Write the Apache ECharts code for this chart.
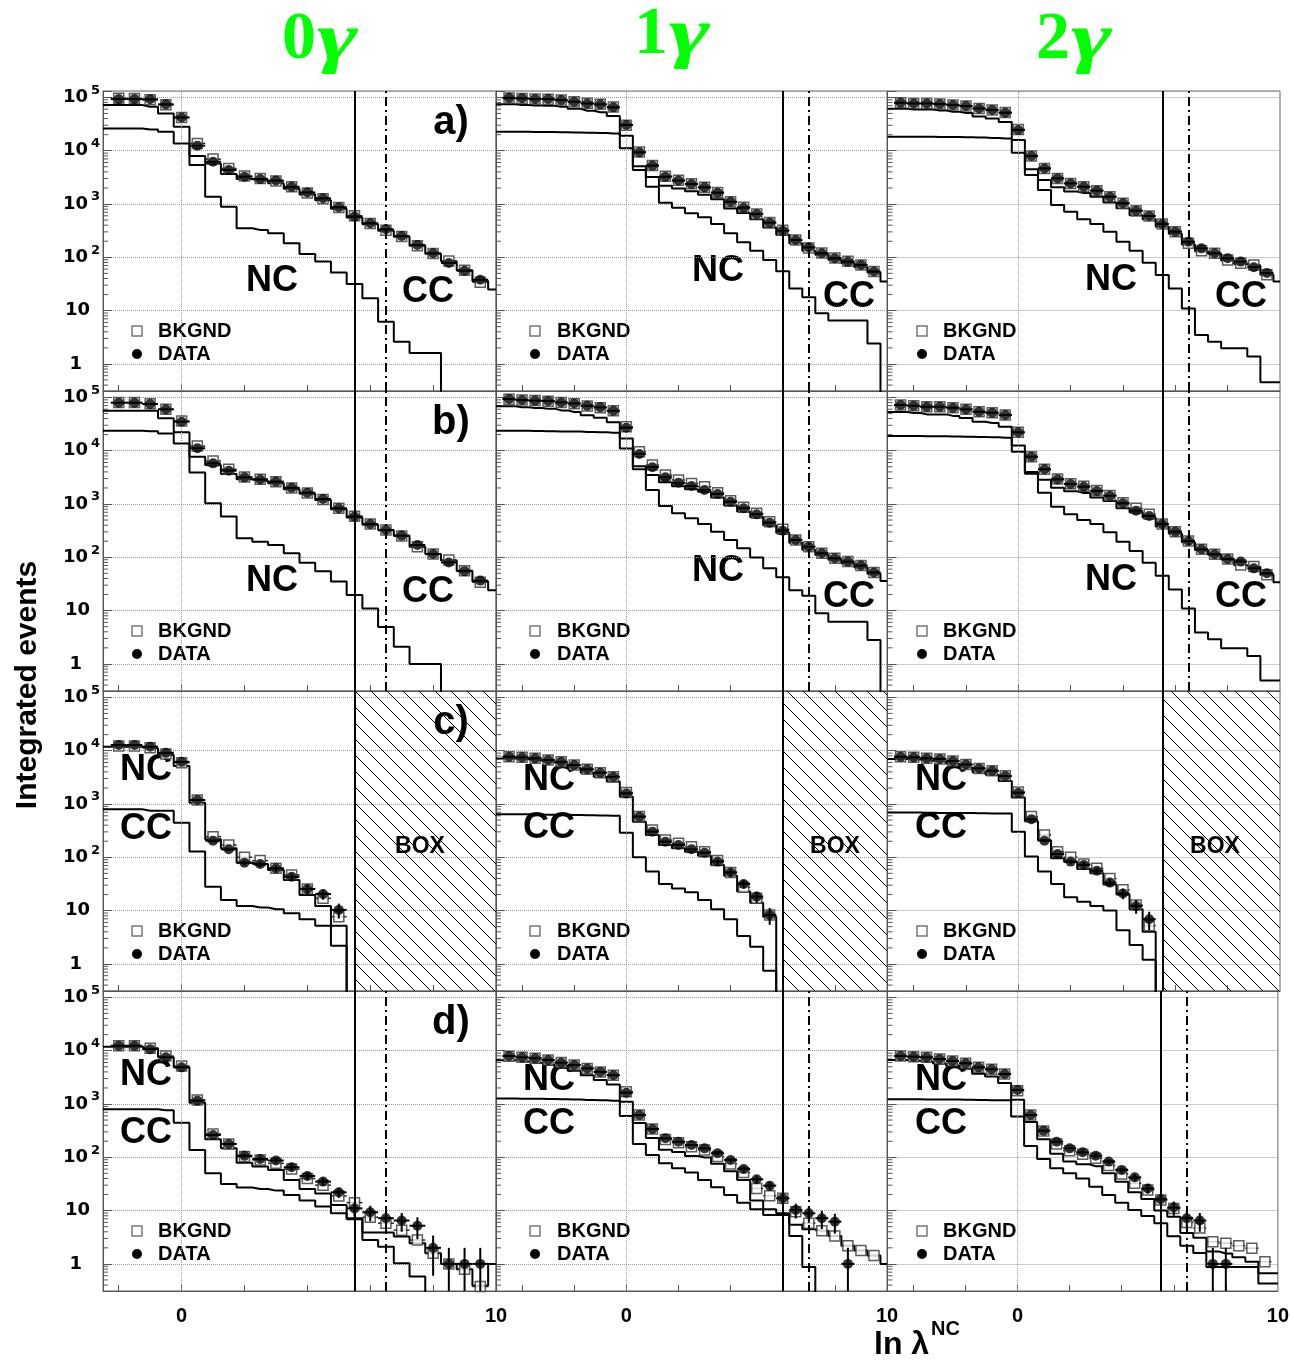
<!DOCTYPE html>
<html><head><meta charset="utf-8">
<script src="https://cdn.jsdelivr.net/npm/echarts@6/dist/echarts.min.js"></script>
<style>html,body{margin:0;padding:0;background:#fff}#c{width:1292px;height:1360px}</style>
</head><body><div id="c"></div>
<script>
// ---------- bin centres (ln lambda NC) ----------
const xCol0  = [-2,-1.5,-1,-0.5,0,0.5,1,1.5,2,2.5,3,3.5,4,4.5,5,5.5,6,6.5,7,7.5,8,8.5,9,9.5,10];
const xCol12 = [-4.5,-4,-3.5,-3,-2.5,-2,-1.5,-1,-0.5,0,0.5,1,1.5,2,2.5,3,3.5,4,4.5,5,5.5,6,6.5,7,7.5,8,8.5,9,9.5,10];

// ---------- 0 gamma ----------
const dataA0 = [93000,93000,92000,74000,42000,12400,6200,4350,3250,2930,2750,2100,1650,1280,870,580,435,335,250,170,119,78,56,38];
const bkgA0  = [96000,95000,90000,73000,42000,13700,6950,4650,3350,3000,2700,2100,1600,1250,860,600,430,320,245,165,118,85,57,34];
const ncA0   = [26200,26200,25100,22700,13700,5390,1370,891,350,325,282,183,115,83,52,31.6,17,6.2,2.6,1.6,1.6,0,0,0,0];
const ccA0   = [71800,71800,66800,50100,28200,7940,5750,3650,2950,2750,2450,1930,1500,1180,810,560,415,315,243,165,117,84,57,36,25];

const dataB0 = [79400,79400,75000,59600,35000,11100,5790,4220,3160,2890,2630,2020,1630,1240,830,580,420,325,255,170,115,80,55,36.5];
const bkgB0  = [80000,80000,76000,60000,36000,12200,6400,4470,3200,2900,2600,2000,1600,1220,830,590,420,325,250,158,115,89,56,34];
const ncB0   = [23700,23700,23200,21100,13700,3900,1030,580,227,196,170,119,79,55,35,19.6,11,4.9,2.1,1.0,1.0,0,0,0,0];
const ccB0   = [56200,56200,56200,40400,22100,7720,5370,3650,2900,2700,2460,1900,1550,1185,795,560,409,320,253,158,115,87,56,35,24];

const dataC0 = [12800,12800,11900,9130,6180,1190,205,141,79.4,75,62,43,25.5,20.5,10.3];
const bkgC0  = [12200,12200,11300,8660,5960,1190,244,170,100,86.6,62,46.6,25.5,17,7.7];
const errC0  = [0,0,0,0,0,0,0,0,8.9,8.7,7.9,6.6,5,4.5,3.2];
const ncC0   = [11900,11900,11060,8300,5160,1060,218,147,79,75,58,37.6,19.7,12.2,2.2,0];
const ccC0   = [794,794,750,750,447,128,28,15.8,12.2,11.4,10.6,8.9,6.9,5.2,5.2,0];

const dataD0 = [12400,12400,10700,7500,4870,1155,262,178,107,93,87,65,44.7,35,22,11,9.3,7.2,6.5,5.2,2.0,1.0,1.0,1.0];
const bkgD0  = [12400,12400,11060,7940,5160,1190,274,178,103,89,77,60,40,30,18.8,14.1,7.5,5.8,4.3,2.8,1.58,1.0,0.79,0.376];
const errD0  = [0,0,0,0,0,0,0,0,10,9.6,9.3,8,6.7,5.9,4.7,3.3,3.0,2.7,2.5,2.3,1.4,1,1,1];
const ncD0   = [11900,11900,11060,7500,4870,1060,218,147,79,67,58,37.6,25.5,21,12.8,7.2,3.9,3.9,3.25,2.44,1.58,1.0,0.79,0.39,1.0];
const ccD0   = [794,794,794,760,447,137,50,31.6,27,25.5,23.7,19.7,15.4,11.9,8.9,6.9,2.8,2.1,1.03,0.58,0,0,0,0,0];

// ---------- 1 gamma ----------
const dataA1 = [98000,96000,93000,93000,89000,83000,77000,74000,65000,30300,9300,5250,3250,2750,2370,2050,1630,1100,850,650,447,316,211,154,119,96,83,72,54];
const bkgA1  = [97000,95000,93000,92000,89000,83000,78000,74000,66000,30000,9500,5300,3300,2800,2400,2050,1650,1100,870,650,450,320,210,150,120,97,84,72,54];
const ncA1   = [22700,22600,22500,22400,22200,22000,21800,21500,21100,11060,4350,2110,1060,850,668,562,422,282,191,133,89,55,26,17.8,8.9,6.5,6.5,6.5,2.4,0];
const ccA1   = [74000,72000,70500,69500,67000,61000,56000,52500,45000,19000,5100,3200,2200,1950,1730,1490,1230,820,680,517,361,265,184,132,111,90,77,65,52,35];

const dataB1 = [93000,89000,87000,86000,80500,77000,69600,65000,56000,27000,8700,4900,3160,2500,2170,1830,1540,1100,830,640,447,316,211,158,119,96,83,70,52];
const bkgB1  = [92000,89000,87000,85000,80000,76000,69000,64000,56000,28000,9600,5370,3480,2820,2430,2110,1630,1150,870,668,465,335,211,158,119,96,83,70,52];
const ncB1   = [23700,23600,23400,23200,23000,22800,22500,22200,21800,11000,4470,1830,915,668,540,422,303,211,147,99,62,42,24,19,8.9,6.2,6.2,6.2,2.8,0];
const ccB1   = [68000,65500,63500,61500,57000,53000,46000,41500,34000,17000,5100,3500,2560,2150,1890,1690,1330,940,720,570,400,290,187,139,110,90,77,64,49,36];

const dataC1 = [7720,7500,7180,6680,6200,5370,4470,3870,3250,1580,580,303,196,170,141,122,83,52,31.6,18.3,8.3];
const bkgC1  = [7720,7500,7180,6680,6200,5370,4470,3870,3250,1650,580,325,211,183,158,127,87,52,27.4,17,8.3];
const errC1  = [0,0,0,0,0,0,0,0,0,0,0,0,0,0,0,0,9.1,7.2,5.6,4.3,2.9];
const ncC1   = [7100,6900,6550,6050,5550,4750,3850,3230,2650,1370,466,262,170,147,127,107,72,45,22.7,14.1,7.7,0];
const ccC1   = [640,640,635,630,625,620,615,610,600,290,100,54,31.6,26,22,15.8,10.6,6.9,3.35,2.1,0.74,0];

const dataD1 = [7940,7500,7180,6680,5960,5370,4650,4000,3470,1630,620,340,227,196,170,147,119,89,60,38.7,29.4,17,10.3,8.9,7.2,6.2,1,0,0];
const bkgD1  = [7900,7500,7200,6700,6000,5400,4650,4000,3470,1700,620,340,215,188,158,137,103,75,51.6,26,19,17,9.5,5.8,4.2,3.35,2.2,1.78,1.43];
const errD1  = [0,0,0,0,0,0,0,0,0,0,0,0,0,0,0,0,10.9,9.4,7.7,6.2,5.4,4.1,3.2,3.0,2.7,2.5,1,0,0];
const ncD1   = [6630,6240,5950,5460,4770,4190,3460,2830,2320,1100,442,230,138,126,106,99,76,55,37.5,15.4,10.6,8.9,5.4,4.47,4.2,3.35,2.2,1.78,1.43,1.0];
const ccD1   = [1270,1260,1250,1240,1230,1210,1190,1170,1150,596,178,110,77,62,52,37.6,27.4,19.6,14.1,10.6,8.3,8.3,3.35,0.87,0,0,0,0,0,0];

// ---------- 2 gamma ----------
const dataA2 = [79400,77000,77000,75000,71800,69000,62000,57800,51600,24500,7940,4650,3020,2430,2110,1780,1370,1030,750,596,422,303,196,147,119,96,83,65,51];
const bkgA2  = [79000,77000,77000,75000,72000,69000,62000,58000,52000,25000,7970,4650,3020,2430,2110,1780,1370,1030,750,596,422,303,184,133,119,89,77,72,47];
const ncA2   = [18300,18300,18200,18100,18000,17800,17600,17300,17000,9130,3500,1830,960,718,515,422,303,196,133,79,46.6,26,11,3.5,2.6,1.97,1.97,1.37,0.45,0.45];
const ccA2   = [61000,59000,59000,57000,54000,51000,44000,40000,34500,15800,4470,2820,2060,1710,1600,1360,1070,835,617,517,375,277,173,130,116,87,75,70,47,35];

const dataB2 = [71800,69600,66800,66800,64000,59600,53800,51600,46600,22100,7720,4470,2900,2370,2110,1750,1430,1030,750,596,422,303,202,141,114,93,83,62,50];
const bkgB2  = [71800,69600,66800,66800,64000,59600,53800,51600,46600,22100,7720,4470,2950,2400,2150,1800,1450,1050,830,640,422,303,202,141,114,93,72,67,47];
const ncB2   = [18800,18800,18700,18600,18500,18300,18100,17900,17500,9600,4000,1630,890,640,500,422,294,196,131,79,45,25,11,3.9,2.9,1.97,1.97,1.41,0.49,0.49];
const ccB2   = [53000,51000,48000,48000,45000,41000,35000,33000,28000,12500,3700,2840,2010,1730,1610,1330,1140,834,700,560,377,278,191,137,111,91,71,66,47,34];

const dataC2 = [7720,7500,7180,6980,6400,5500,4650,4220,3350,1630,516,205,115,83,72,56,33.5,21,12.2,6.9];
const bkgC2  = [7720,7500,7180,6980,6400,5500,4650,4220,3400,1680,580,262,127,100,75,62,40,24.5,12.8,5.2];
const errC2  = [0,0,0,0,0,0,0,0,0,0,0,0,0,9.1,8.5,7.5,5.8,4.6,3.5,2.6];
const ncC2   = [7000,6800,6500,6300,5700,4800,3950,3530,2700,1330,477,208,96,82,60,50,31,20,10.6,4.0,0];
const ccC2   = [690,690,685,680,680,675,670,665,660,303,103,54,31.6,17.8,14.7,12.2,10,4.3,2.27,1.19,0];

const dataD2 = [7940,7720,7500,6980,6400,5790,4870,4470,3650,1830,620,316,196,147,124,107,83,58,42,26,16.3,11.4,7.2,6.5,1,1,0,0,0];
const bkgD2  = [7940,7720,7500,6980,6400,5790,4870,4470,3650,1780,620,310,178,133,114,96,70,48.7,32.5,24.4,15.8,11,6.0,4.7,2.6,2.44,2.2,1.97,1.1];
const errD2  = [0,0,0,0,0,0,0,0,0,0,0,0,0,0,11.1,10.3,9.1,7.6,6.5,5.1,4.0,3.4,2.7,2.5,1,1,0,0,0];
const ncD2   = [6700,6490,6280,5760,5190,4590,3680,3290,2480,1200,457,217,116,83,74,68,50,34.6,22,16.5,10,7.7,3.8,3.1,1.7,1.57,1.33,1.1,0.67,0.67];
const ccD2   = [1230,1225,1220,1215,1210,1200,1190,1180,1170,580,163,93,62,50,40,28,19.6,14.1,10.3,7.9,5.8,3.3,2.2,1.6,0.87,0.87,0.87,0.87,0.43,0.43];

// ---------- cuts ----------
const solidCut = [5.5, 6.0, 5.5];
const dashCut  = [6.5, 7.0, 6.5];
const columnTitles = ['0', '1', '2'];
const rowTags = ['a)', 'b)', 'c)', 'd)'];

const panels = [
  [{d:dataA0,b:bkgA0,n:ncA0,k:ccA0,e:null},{d:dataA1,b:bkgA1,n:ncA1,k:ccA1,e:null},{d:dataA2,b:bkgA2,n:ncA2,k:ccA2,e:null}],
  [{d:dataB0,b:bkgB0,n:ncB0,k:ccB0,e:null},{d:dataB1,b:bkgB1,n:ncB1,k:ccB1,e:null},{d:dataB2,b:bkgB2,n:ncB2,k:ccB2,e:null}],
  [{d:dataC0,b:bkgC0,n:ncC0,k:ccC0,e:errC0},{d:dataC1,b:bkgC1,n:ncC1,k:ccC1,e:errC1},{d:dataC2,b:bkgC2,n:ncC2,k:ccC2,e:errC2}],
  [{d:dataD0,b:bkgD0,n:ncD0,k:ccD0,e:errD0},{d:dataD1,b:bkgD1,n:ncD1,k:ccD1,e:errD1},{d:dataD2,b:bkgD2,n:ncD2,k:ccD2,e:errD2}]
];

// ---------- layout ----------
const colLeft = [103, 496, 887.5], colWidth = [393, 391, 392.5];
const rowTop0 = 91, rowH = 300;
const xMins = [-2.5, -5, -5], xMax = 10;
const yMin = 0.31, yMax = 131800;
const xsCol = [xCol0, xCol12, xCol12];
const tickVals = [[-2,0,2,4,6,8],[-4,-2,0,2,4,6,8],[-4,-2,0,2,4,6,8]];
const EPS = 1e-4;
const SANS = '"Liberation Sans", Arial, sans-serif';

// hatch pattern
const hatch = document.createElement('canvas');
hatch.width = 16; hatch.height = 16;
(function(){ const g = hatch.getContext('2d'); g.strokeStyle = '#000'; g.lineWidth = 1;
  g.beginPath(); g.moveTo(-2,-2); g.lineTo(18,18); g.moveTo(14,-2); g.lineTo(18,2); g.moveTo(-2,14); g.lineTo(2,18); g.stroke(); })();

// minor tick values (axis decoration)
const minorVals = [];
for (let k = -1; k <= 5; k++) for (let m = 2; m <= 9; m++) { const v = m * Math.pow(10, k); if (v > yMin && v < yMax) minorVals.push(v); }

function yFmt(v) {
  const l = Math.log10(v), n = Math.round(l);
  if (Math.abs(l - n) > 1e-6) return '';
  if (n === 0) return '{b|1}{p2| }';
  if (n === 1) return '{b|10}{p1| }';
  return '{b|10}{s|' + n + '}';
}

function errSeries(gi, pts, color, width, z) {
  return {
    type: 'custom', xAxisIndex: gi, yAxisIndex: gi, z: z, silent: true, clip: true,
    data: pts,
    renderItem: function (params, api) {
      const x = api.value(0), y = api.value(1), e = api.value(2);
      const pl = api.coord([x - 0.25, y]), pr = api.coord([x + 0.25, y]);
      const ch = [{type: 'line', shape: {x1: pl[0], y1: pl[1], x2: pr[0], y2: pr[1]}, style: {stroke: color, lineWidth: width}}];
      if (e > 0) {
        const cs = params.coordSys;
        const top = api.coord([x, y + e]);
        const lo = y - e;
        const by = lo > 0 ? api.coord([x, lo])[1] : cs.y + cs.height;
        ch.push({type: 'line', shape: {x1: top[0], y1: top[1], x2: top[0], y2: Math.min(by, cs.y + cs.height)}, style: {stroke: color, lineWidth: width}});
      }
      return {type: 'group', children: ch};
    }
  };
}

const grids = [], xAxes = [], yAxes = [], series = [], graphics = [];

for (let r = 0; r < 4; r++) {
  for (let c = 0; c < 3; c++) {
    const gi = r * 3 + c, p = panels[r][c], xs = xsCol[c];
    const top = rowTop0 + rowH * r;
    grids.push({left: colLeft[c], top: top, width: colWidth[c], height: rowH, show: true, borderColor: '#666', borderWidth: 1, backgroundColor: 'transparent'});
    xAxes.push({
      gridIndex: gi, type: 'value', min: xMins[c], max: xMax,
      axisLine: {show: true, onZero: false, lineStyle: {color: '#555', width: 1}},
      axisTick: {show: true, inside: true, length: 6, customValues: tickVals[c], lineStyle: {color: '#555'}},
      axisLabel: {show: r === 3, customValues: [0, 10], margin: 15, fontSize: 20, fontWeight: 'bold', fontFamily: SANS, color: '#000', hideOverlap: false},
      splitLine: {show: false}
    });
    yAxes.push({
      gridIndex: gi, type: 'log', logBase: 10, min: yMin, max: yMax,
      axisLine: {show: true, onZero: false, lineStyle: {color: '#555', width: 1}},
      axisTick: {show: true, inside: true, length: 9, lineStyle: {color: '#555'}},
      axisLabel: {show: c === 0, formatter: yFmt, margin: 3, hideOverlap: false,
        rich: {
          b: {fontSize: 18, fontWeight: 'bold', fontFamily: '"DejaVu Sans", sans-serif', color: '#000'},
          s: {fontSize: 13, fontWeight: 'bold', fontFamily: '"DejaVu Sans", sans-serif', color: '#000', padding: [0, 0, 14, 3]},
          p1: {width: 10}, p2: {width: 18}
        }},
      splitLine: {show: true, lineStyle: {type: 'dotted', color: '#999', width: 1}}
    });

    const bgSeries = {
      type: 'line', xAxisIndex: gi, yAxisIndex: gi, data: [], z: 1, silent: true,
      markLine: {silent: true, symbol: ['none', 'none'], label: {show: false}, animation: false,
        lineStyle: {type: 'dotted', color: '#999', width: 1}, data: [{xAxis: 0}]}
    };
    if (r === 2) {
      bgSeries.markArea = {silent: true, animation: false, itemStyle: {color: {image: hatch, repeat: 'repeat'}},
        data: [[{xAxis: solidCut[c]}, {xAxis: xMax}]]};
    }
    series.push(bgSeries);

    const stepData = (vals) => {
      const d = [[xMins[c], vals[0] > 0 ? vals[0] : EPS]];
      vals.forEach((v, i) => d.push([xs[i], v > 0 ? v : EPS]));
      return d;
    };
    const cutLines = [{xAxis: solidCut[c], lineStyle: {type: 'solid', color: '#000', width: 2}}];
    if (r !== 2) cutLines.push({xAxis: dashCut[c], lineStyle: {type: [9, 4, 2, 4], color: '#000', width: 2}});

    series.push({
      type: 'line', xAxisIndex: gi, yAxisIndex: gi, step: 'middle', showSymbol: false, symbol: 'none', clip: true, z: 3, silent: true,
      lineStyle: {color: '#000', width: 2}, data: stepData(p.n),
      markLine: {silent: true, symbol: ['none', 'none'], label: {show: false}, animation: false, data: cutLines}
    });
    series.push({
      type: 'line', xAxisIndex: gi, yAxisIndex: gi, step: 'middle', showSymbol: false, symbol: 'none', clip: true, z: 3, silent: true,
      lineStyle: {color: '#000', width: 2}, data: stepData(p.k)
    });

    const bPts = [], dPts = [];
    p.b.forEach((v, i) => { if (v > 0) bPts.push([xs[i], v, 0]); });
    p.d.forEach((v, i) => { if (v > 0) dPts.push([xs[i], v, p.e ? p.e[i] : 0]); });
    series.push(errSeries(gi, bPts, '#222', 1.5, 4));
    series.push({type: 'scatter', xAxisIndex: gi, yAxisIndex: gi, z: 4, silent: true, symbol: 'rect', symbolSize: 10,
      itemStyle: {color: '#fff', borderColor: '#333', borderWidth: 1.5}, data: bPts.map(q => [q[0], q[1]])});
    series.push(errSeries(gi, dPts, '#000', 2, 5));
    series.push({type: 'scatter', xAxisIndex: gi, yAxisIndex: gi, z: 5, silent: true, symbol: 'circle', symbolSize: 10,
      itemStyle: {color: '#000'}, data: dPts.map(q => [q[0], q[1]])});

    series.push({
      type: 'custom', xAxisIndex: gi, yAxisIndex: gi, z: 2, silent: true,
      data: minorVals.map(v => [xMins[c], v]),
      renderItem: function (params, api) {
        const pt = api.coord([api.value(0), api.value(1)]);
        return {type: 'line', shape: {x1: pt[0], y1: pt[1], x2: pt[0] + 5, y2: pt[1]}, style: {stroke: '#555', lineWidth: 1}};
      }
    });

    const dy = top;
    const legX = [137, 535, 922][c], legT = [158, 557, 943][c];
    graphics.push({type: 'rect', shape: {x: legX - 5, y: dy + 235, width: 10, height: 10}, style: {fill: '#fff', stroke: '#777', lineWidth: 1.5}});
    graphics.push({type: 'circle', shape: {cx: legX, cy: dy + 263, r: 5}, style: {fill: '#000'}});
    graphics.push({type: 'text', x: legT, y: dy + 240, style: {text: 'BKGND', font: 'bold 20px ' + SANS, fill: '#000', align: 'left', verticalAlign: 'middle'}});
    graphics.push({type: 'text', x: legT, y: dy + 263, style: {text: 'DATA', font: 'bold 20px ' + SANS, fill: '#000', align: 'left', verticalAlign: 'middle'}});

    let ncPos, ccPos;
    if (r < 2) {
      ncPos = [[272, 190], [718, 180], [1111, 189]][c];
      ccPos = [[428, 201], [849, 206], [1241, 206]][c];
    } else {
      ncPos = [[146, 79 + (r === 3 ? 5 : 0)], [549, 89], [941, 89]][c];
      ccPos = [[146, 138 + (r === 3 ? 4 : 0)], [549, 137 - (r === 3 ? 4 : 0)], [941, 137 - (r === 3 ? 4 : 0)]][c];
    }
    graphics.push({type: 'text', x: ncPos[0], y: dy + ncPos[1], style: {text: 'NC', font: 'bold 36px ' + SANS, fill: '#000', align: 'center', verticalAlign: 'middle'}});
    graphics.push({type: 'text', x: ccPos[0], y: dy + ccPos[1], style: {text: 'CC', font: 'bold 36px ' + SANS, fill: '#000', align: 'center', verticalAlign: 'middle'}});
    if (r === 2) {
      graphics.push({type: 'text', x: [420, 835, 1215][c], y: dy + 156, style: {text: 'BOX', font: 'bold 23px ' + SANS, fill: '#000', align: 'center', verticalAlign: 'middle'}});
    }
    if (c === 0) {
      graphics.push({type: 'text', x: 451, y: dy + 32, style: {text: rowTags[r], font: 'bold 40px ' + SANS, fill: '#000', align: 'center', verticalAlign: 'middle'}});
    }
  }
}

// column titles: digit + stretched gamma
[[316, 40], [668, 35], [1070, 40]].forEach((pos, c) => {
  graphics.push({type: 'text', x: pos[0], y: pos[1], style: {text: columnTitles[c], font: 'bold 68px "Liberation Serif", serif', fill: '#00ff00', align: 'right', verticalAlign: 'middle'}});
  graphics.push({type: 'text', x: pos[0] + 1, y: pos[1] + 2, scaleX: 1.45, style: {text: 'γ', font: 'italic bold 68px "Liberation Serif", serif', fill: '#00ff00', align: 'left', verticalAlign: 'middle'}});
});
// axis titles
graphics.push({type: 'text', x: 28, y: 685, rotation: Math.PI / 2, style: {text: 'Integrated events', font: 'bold 30px ' + SANS, fill: '#000', align: 'center', verticalAlign: 'middle'}});
graphics.push({type: 'text', x: 874, y: 1345, style: {text: 'ln λ', font: 'bold 32px ' + SANS, fill: '#000', align: 'left', verticalAlign: 'middle'}});
graphics.push({type: 'text', x: 931, y: 1329, style: {text: 'NC', font: 'bold 20px ' + SANS, fill: '#000', align: 'left', verticalAlign: 'middle'}});

const chart = echarts.init(document.getElementById('c'), null, {renderer: 'canvas', width: 1292, height: 1360});
chart.setOption({
  animation: false,
  backgroundColor: '#fff',
  grid: grids, xAxis: xAxes, yAxis: yAxes, series: series, graphic: graphics
});
</script></body></html>
